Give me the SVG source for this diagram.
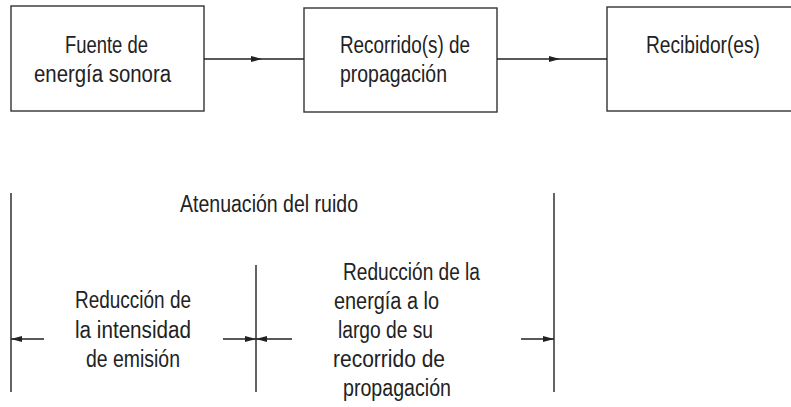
<svg xmlns="http://www.w3.org/2000/svg" width="791" height="407" viewBox="0 0 791 407">
<style>
  .box{fill:#fff;stroke:#333;stroke-width:1.4}
  .ln{fill:none;stroke:#222;stroke-width:1.4}
  text{font-family:"Liberation Sans",Arial,sans-serif;font-size:23px;fill:#222}
</style>
<defs>
  <marker id="ah" markerUnits="userSpaceOnUse" markerWidth="11" markerHeight="6" refX="11" refY="3" orient="auto">
    <path d="M0,0 L11,3 L0,6 Z" fill="#222"/>
  </marker>
</defs>
<rect width="791" height="407" fill="#fff"/>
<g id="fuente">
  <rect class="box" x="11" y="6" width="193" height="105"/>
  <text x="65" y="53" textLength="83" lengthAdjust="spacingAndGlyphs">Fuente de</text>
  <text x="34" y="82" textLength="137" lengthAdjust="spacingAndGlyphs">energía sonora</text>
</g>
<g id="recorrido">
  <rect class="box" x="304" y="8" width="193" height="104"/>
  <text x="340" y="53" textLength="130" lengthAdjust="spacingAndGlyphs">Recorrido(s) de</text>
  <text x="340" y="82" textLength="107" lengthAdjust="spacingAndGlyphs">propagación</text>
</g>
<g id="recibidor">
  <rect class="box" x="607" y="7" width="190" height="104"/>
  <text x="646" y="53" textLength="114" lengthAdjust="spacingAndGlyphs">Recibidor(es)</text>
</g>
<g id="connectors">
  <path class="ln" d="M204,59 L262,59 L304,59" marker-mid="url(#ah)"/>
  <path class="ln" d="M497,59 L560,59 L607,59" marker-mid="url(#ah)"/>
</g>
<g id="atenuacion">
  <line class="ln" x1="11" y1="193" x2="11" y2="392"/>
  <line class="ln" x1="256" y1="265" x2="256" y2="392"/>
  <line class="ln" x1="554" y1="193" x2="554" y2="392"/>
  <line class="ln" x1="44" y1="339" x2="11" y2="339" marker-end="url(#ah)"/>
  <line class="ln" x1="223" y1="339" x2="256" y2="339" marker-end="url(#ah)"/>
  <line class="ln" x1="292" y1="339" x2="256" y2="339" marker-end="url(#ah)"/>
  <line class="ln" x1="521" y1="339" x2="554" y2="339" marker-end="url(#ah)"/>
  <text x="180" y="212" textLength="178" lengthAdjust="spacingAndGlyphs">Atenuación del ruido</text>
  <text x="75" y="308" textLength="116" lengthAdjust="spacingAndGlyphs">Reducción de</text>
  <text x="75" y="338" textLength="116" lengthAdjust="spacingAndGlyphs">la intensidad</text>
  <text x="86" y="367" textLength="94" lengthAdjust="spacingAndGlyphs">de emisión</text>
  <text x="343" y="280" textLength="137" lengthAdjust="spacingAndGlyphs">Reducción de la</text>
  <text x="334" y="309" textLength="105" lengthAdjust="spacingAndGlyphs">energía a lo</text>
  <text x="338" y="338" textLength="95" lengthAdjust="spacingAndGlyphs">largo de su</text>
  <text x="333" y="367" textLength="112" lengthAdjust="spacingAndGlyphs">recorrido de</text>
  <text x="343" y="396" textLength="108" lengthAdjust="spacingAndGlyphs">propagación</text>
</g>
</svg>
